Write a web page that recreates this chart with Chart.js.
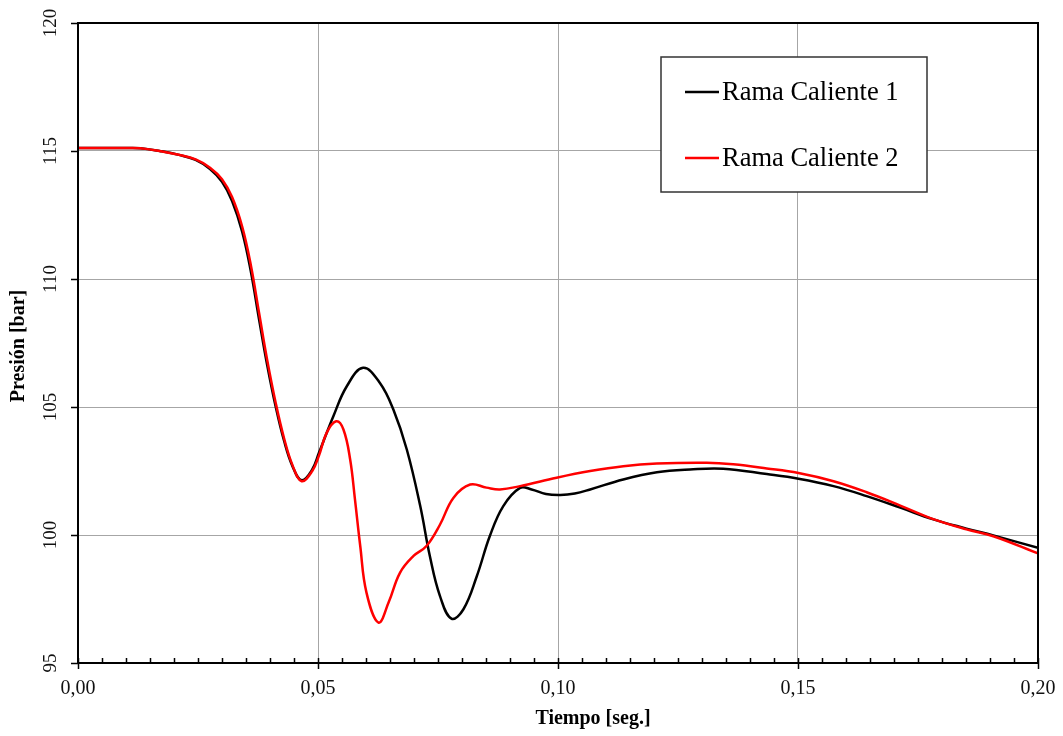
<!DOCTYPE html>
<html>
<head>
<meta charset="utf-8">
<script src="https://cdn.jsdelivr.net/npm/chart.js@4"></script>
<style>
  html, body { margin: 0; padding: 0; background: #fff; }
  #wrap { width: 1063px; height: 736px; }
</style>
</head>
<body>
<div id="wrap"><canvas id="c" width="1063" height="736"></canvas></div>
<script>
// tiempo [s] y presión [bar]
const tiempo1 = [0, 0.005, 0.010, 0.013, 0.017, 0.021, 0.0245, 0.0275, 0.0300, 0.0321, 0.0342, 0.036, 0.0377, 0.0394,
  0.0412, 0.0429, 0.0447, 0.0466, 0.0488, 0.0502, 0.0532, 0.056, 0.0594, 0.0629, 0.0657, 0.0685, 0.0713, 0.0733,
  0.0754, 0.0778, 0.0803, 0.0831, 0.0858, 0.0886, 0.0921, 0.0945, 0.0975, 0.1005, 0.1035, 0.1067, 0.1136, 0.1206,
  0.1275, 0.1344, 0.1435, 0.1501, 0.1574, 0.1643, 0.1713, 0.1782, 0.1851, 0.1907, 0.2];
const presion1 = [115.12, 115.12, 115.12, 115.11, 115.0, 114.85, 114.65, 114.3, 113.8, 113.05, 111.85, 110.3, 108.45, 106.65,
  105.0, 103.7, 102.68, 102.14, 102.56, 103.21, 104.64, 105.81, 106.53, 105.94, 104.9, 103.34, 101.13, 99.18,
  97.62, 96.73, 97.10, 98.40, 99.96, 101.13, 101.84, 101.78, 101.6, 101.56, 101.62, 101.78, 102.17, 102.45,
  102.56, 102.59, 102.38, 102.2, 101.91, 101.52, 101.07, 100.61, 100.25, 99.98, 99.5];

const tiempo2 = [0, 0.005, 0.010, 0.013, 0.017, 0.021, 0.0245, 0.0275, 0.0300, 0.0321, 0.0342, 0.036, 0.0377, 0.0394,
  0.0412, 0.0429, 0.0447, 0.0466, 0.0488, 0.0502, 0.0518, 0.0538, 0.0553, 0.0567, 0.0577, 0.0588, 0.0601, 0.0626,
  0.0647, 0.0671, 0.0699, 0.0726, 0.0754, 0.0782, 0.0817, 0.0851, 0.0879, 0.0921, 0.0997, 0.1067, 0.1136, 0.1206,
  0.131, 0.1365, 0.1435, 0.1501, 0.1574, 0.1643, 0.1713, 0.1782, 0.1851, 0.1907, 0.2];
const presion2 = [115.12, 115.12, 115.12, 115.11, 115.0, 114.85, 114.67, 114.35, 113.9, 113.2, 112.05, 110.55, 108.7, 106.85,
  105.15, 103.8, 102.72, 102.1, 102.5, 103.1, 103.99, 104.44, 104.12, 102.95, 101.39, 99.57, 97.75, 96.58,
  97.36, 98.53, 99.18, 99.57, 100.4, 101.45, 101.97, 101.85, 101.78, 101.91, 102.24, 102.5, 102.69, 102.79,
  102.82, 102.76, 102.6, 102.42, 102.1, 101.67, 101.15, 100.62, 100.22, 99.95, 99.28];

const series = ["Rama Caliente 1", "Rama Caliente 2"];
const colores = ["#000000", "#ff0000"];
const ticksX = [0, 0.05, 0.10, 0.15, 0.20];
const ticksY = [95, 100, 105, 110, 115, 120];

const serif = "'Liberation Serif', 'Times New Roman', serif";

function puntos(t, p) {
  return t.map((x, i) => ({ x: x, y: p[i] }));
}

const decor = {
  id: "decor",
  afterDraw(chart) {
    const ctx = chart.ctx;
    const a = chart.chartArea;
    const sx = chart.scales.x, sy = chart.scales.y;
    ctx.save();

    // marco
    ctx.strokeStyle = "#000";
    ctx.lineWidth = 2;
    ctx.strokeRect(a.left, a.top, a.right - a.left, a.bottom - a.top);

    // marcas menores hacia dentro
    ctx.lineWidth = 1.5;
    ctx.beginPath();
    for (let k = 0; k <= 40; k++) {
      const x = Math.round(sx.getPixelForValue(k * 0.005)) + 0.5;
      const major = k % 10 === 0;
      ctx.moveTo(x, a.bottom - 5);
      ctx.lineTo(x, a.bottom + (major ? 6 : 0));
    }
    ticksY.forEach(v => {
      const y = Math.round(sy.getPixelForValue(v)) + 0.5;
      ctx.moveTo(a.left - 7, y);
      ctx.lineTo(a.left, y);
    });
    ctx.stroke();

    // etiquetas x
    ctx.fillStyle = "#111";
    ctx.font = "20px " + serif;
    ctx.textAlign = "center";
    ctx.textBaseline = "middle";
    ticksX.forEach(v => {
      ctx.fillText(v.toFixed(2).replace(".", ","), sx.getPixelForValue(v), 689);
    });

    // etiquetas y (giradas)
    ticksY.forEach(v => {
      ctx.save();
      ctx.translate(51, sy.getPixelForValue(v));
      ctx.rotate(-Math.PI / 2);
      ctx.font = "19px " + serif;
      ctx.fillText(String(v), 0, 0);
      ctx.restore();
    });

    // títulos
    ctx.fillStyle = "#000";
    ctx.font = "bold 20px " + serif;
    ctx.fillText("Tiempo [seg.]", 593, 719);
    ctx.save();
    ctx.translate(19, 346);
    ctx.rotate(-Math.PI / 2);
    ctx.fillText("Presión [bar]", 0, 0);
    ctx.restore();

    // leyenda
    ctx.fillStyle = "#fff";
    ctx.fillRect(661, 57, 266, 135);
    ctx.strokeStyle = "#333";
    ctx.lineWidth = 1.5;
    ctx.strokeRect(661, 57, 266, 135);
    const filas = [92, 158];
    chart.data.datasets.forEach((ds, i) => {
      ctx.strokeStyle = ds.borderColor;
      ctx.lineWidth = 2.5;
      ctx.beginPath();
      ctx.moveTo(685, filas[i]);
      ctx.lineTo(719, filas[i]);
      ctx.stroke();
      ctx.fillStyle = "#000";
      ctx.font = "26.5px " + serif;
      ctx.textAlign = "left";
      ctx.fillText(ds.label, 722, filas[i] + 1);
    });
    ctx.restore();
  }
};

new Chart(document.getElementById("c"), {
  type: "line",
  data: {
    datasets: [
      { label: series[0], data: puntos(tiempo1, presion1), borderColor: colores[0], order: 1 },
      { label: series[1], data: puntos(tiempo2, presion2), borderColor: colores[1], order: 0 }
    ]
  },
  options: {
    responsive: false,
    animation: false,
    events: [],
    layout: { padding: { top: 23, right: 25, left: 0, bottom: 0 } },
    elements: {
      point: { radius: 0 },
      line: { borderWidth: 2.5, tension: 0.4, fill: false }
    },
    plugins: { legend: { display: false }, tooltip: { enabled: false } },
    scales: {
      x: {
        type: "linear", min: 0, max: 0.2,
        afterFit: s => { s.height = 73; },
        afterBuildTicks: s => { s.ticks = ticksX.map(v => ({ value: v })); },
        ticks: { display: false },
        grid: { color: "#a6a6a6", lineWidth: 1, drawTicks: false },
        border: { display: false }
      },
      y: {
        min: 95, max: 120,
        afterFit: s => { s.width = 78; },
        afterBuildTicks: s => { s.ticks = ticksY.map(v => ({ value: v })); },
        ticks: { display: false },
        grid: { color: "#a6a6a6", lineWidth: 1, drawTicks: false },
        border: { display: false }
      }
    }
  },
  plugins: [decor]
});
</script>
</body>
</html>
